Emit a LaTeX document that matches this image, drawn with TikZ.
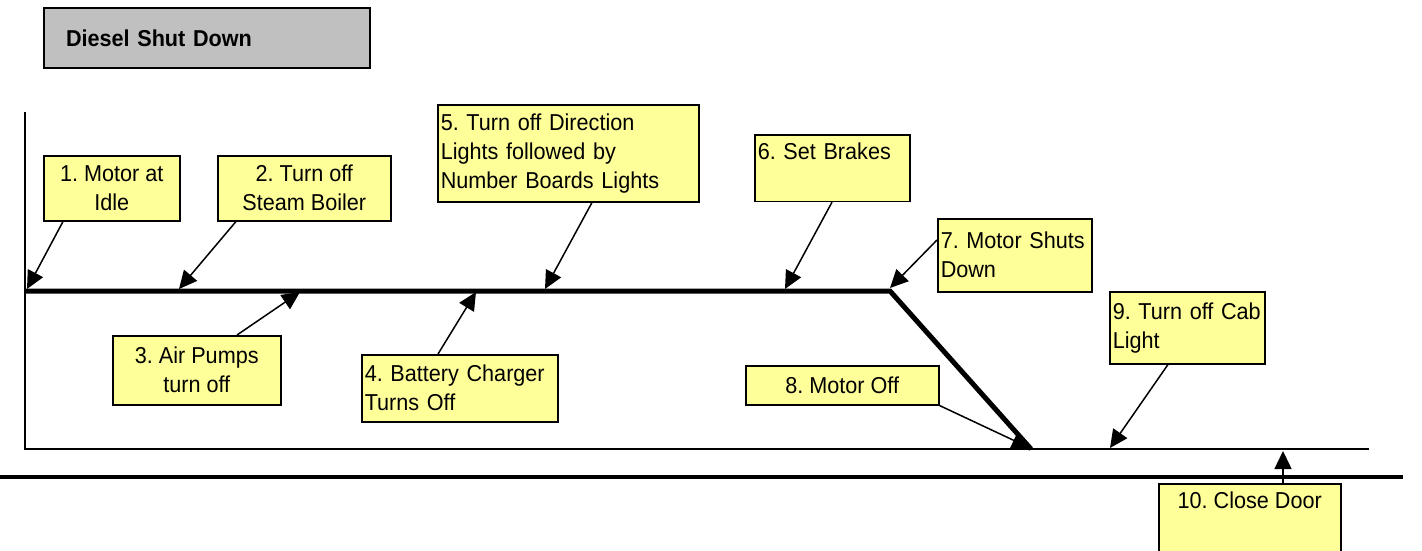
\documentclass[tikz,border=0pt]{standalone}
\usepackage{fontspec}
\setmainfont{Liberation Sans}[FakeStretch=0.94]
\usetikzlibrary{arrows.meta}
\definecolor{noteyellow}{HTML}{FFFF99}
\definecolor{titlegray}{HTML}{C0C0C0}
\frenchspacing

\begin{document}
\begin{tikzpicture}[
    x=1pt, y=-1pt,
    >={Triangle[length=18pt, width=17pt]},
    every node/.style = {font=\fontsize{23}{29}\selectfont},
    note/.style       = {rectangle, draw, line width=1.5pt, fill=noteyellow,
                         anchor=north west, inner xsep=3pt, inner ysep=4pt},
    notec/.style      = {note, align=center},
    notel/.style      = {note, align=left},
    title/.style      = {rectangle, draw, line width=2pt, fill=titlegray,
                         anchor=north west, align=left,
                         font=\fontsize{23}{29}\selectfont\bfseries},
    pointer/.style    = {->, line width=1.5pt},
    track/.style      = {line width=5pt},
    axis/.style       = {line width=2pt}
]
\useasboundingbox (0,0) rectangle (1422,550);

% Title
\node[title, minimum width=326pt, minimum height=60pt, text width=282pt,
      inner xsep=22pt] (title) at (43,7) {Diesel Shut Down};

% Steps above the line
\node[notec, minimum width=136pt, minimum height=65pt] (s1) at (43,155) {1. Motor at\\Idle};
\node[notec, minimum width=173pt, minimum height=65pt] (s2) at (217,155) {2. Turn off\\Steam Boiler};
\node[notel, text width=255pt, minimum height=97pt] (s5) at (437,104)
     {5. Turn off Direction\\Lights followed by\\Number Boards Lights};
\node[notel, text width=149pt, inner ysep=8pt, text depth=34pt] (s6) at (754,134) {6. Set Brakes};
\node[notel, text width=148pt, minimum height=73pt] (s7) at (937,218) {7. Motor Shuts\\Down};

% Steps below the line
\node[notec, minimum width=168pt, minimum height=69pt] (s3) at (112,335) {3. Air Pumps\\turn off};
\node[notel, text width=190pt, minimum height=67pt] (s4) at (361,354) {4. Battery Charger\\Turns Off};
\node[notec, minimum width=193pt, minimum height=39pt] (s8) at (745,365) {8. Motor Off};
\node[notel, text width=149pt, minimum height=72pt] (s9) at (1109,291) {9. Turn off Cab\\Light};
\node[notec, minimum width=182pt, inner ysep=8pt, text depth=70pt] (s10) at (1158,483) {10. Close Door};

% Timeline points
\coordinate (top)    at (25,112);
\coordinate (start)  at (25,291);
\coordinate (bend)   at (890,291);
\coordinate (origin) at (25,449);
\coordinate (drop)   at (1031,449);
\coordinate (xend)   at (1369,449);
\coordinate (floorL) at (0,477);
\coordinate (floorR) at (1403,477);

\coordinate (p1)  at (27,289);
\coordinate (p2)  at (179,289);
\coordinate (p3)  at (300,292);
\coordinate (p4)  at (476,292);
\coordinate (p5)  at (545,289);
\coordinate (p6)  at (785,289);
\coordinate (p7)  at (890,288);
\coordinate (p8)  at (1030,448);
\coordinate (p9)  at (1110,448);
\coordinate (p10) at (1283,451);

% Pointers
\draw[pointer] ([xshift=20pt]s1.south west) -- (p1);
\draw[pointer] ([xshift=19pt]s2.south west) -- (p2);
\draw[pointer] ([xshift=125pt]s3.north west) -- (p3);
\draw[pointer] ([xshift=77pt]s4.north west) -- (p4);
\draw[pointer] ([xshift=155pt]s5.south west) -- (p5);
\draw[pointer] ([xshift=78pt]s6.south west) -- (p6);
\draw[pointer] ([yshift=-22pt]s7.north west) -- (p7);
\draw[pointer] (s8.south east) -- (p8);
\draw[pointer] ([xshift=59pt]s9.south west) -- (p9);
\draw[pointer] ([xshift=125pt]s10.north west) -- (p10);

% Axes and track
\draw[axis] (top) -- (origin) -- (xend);
\draw[track] (start) -- (bend) -- (drop);
\draw[line width=3.5pt] (floorL) -- (floorR);

\end{tikzpicture}
\end{document}
